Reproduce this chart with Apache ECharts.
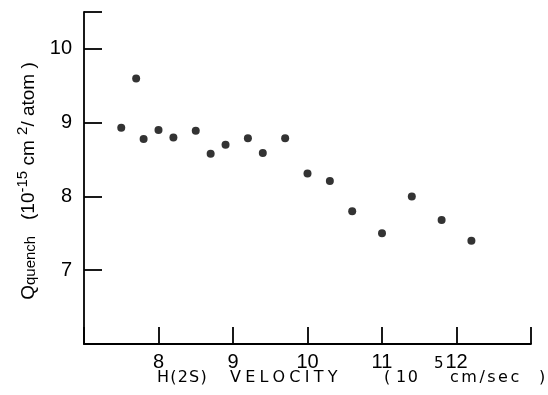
<!DOCTYPE html>
<html>
<head>
<meta charset="utf-8">
<script src="https://cdn.jsdelivr.net/npm/echarts@6/dist/echarts.min.js"></script>
<style>
html,body{margin:0;padding:0;background:#fff;}
#chart{width:548px;height:395px;}
</style>
</head>
<body>
<div id="chart"></div>
<script>
// Data
var velocity = [7.5, 7.7, 7.8, 8.0, 8.2, 8.5, 8.7, 8.9, 9.2, 9.4, 9.7, 10.0, 10.3, 10.6, 11.0, 11.4, 11.8, 12.2];
var qQuench  = [8.93, 9.6, 8.78, 8.9, 8.8, 8.89, 8.58, 8.7, 8.79, 8.59, 8.79, 8.31, 8.21, 7.8, 7.5, 8.0, 7.68, 7.4];
var xTickLabels = [8, 9, 10, 11, 12];
var yTickLabels = [7, 8, 9, 10];

var points = velocity.map(function (v, i) { return [v, qQuench[i]]; });
var FONT = 'Liberation Sans';
var TFONT = 'DejaVu Sans';
var INK = '#000';

// letter-spaced text: each character becomes a rich token with right padding
function spaced(str, gap, size) {
  var rich = {c: {fontFamily: TFONT, fontSize: size, fill: INK, padding: [0, gap, 0, 0]}};
  var text = str.split('').map(function (ch) { return '{c|' + ch + '}'; }).join('');
  return {text: text, rich: rich, verticalAlign: 'middle', align: 'left'};
}
function xTitlePiece(str, x, y, gap, size) {
  return {type: 'text', x: x, y: y, silent: true, style: spaced(str, gap, size)};
}

var chart = echarts.init(document.getElementById('chart'), null, {renderer: 'canvas'});
chart.setOption({
  animation: false,
  backgroundColor: '#fff',
  grid: {left: 84, right: 17, top: 12, bottom: 51, containLabel: false},
  xAxis: {
    type: 'value', min: 7, max: 13, interval: 1,
    axisLine: {show: true, onZero: false, lineStyle: {color: INK, width: 1.8}},
    axisTick: {show: true, inside: true, length: 17, lineStyle: {color: INK, width: 1.8}},
    splitLine: {show: false},
    axisLabel: {
      show: true, margin: 8, color: INK, fontFamily: FONT, fontSize: 20,
      formatter: function (v) { return xTickLabels.indexOf(v) >= 0 ? String(v) : ''; }
    }
  },
  yAxis: {
    type: 'value', min: 6, max: 10.5, interval: 1,
    axisLine: {show: true, onZero: false, lineStyle: {color: INK, width: 1.8}},
    axisTick: {show: true, inside: true, length: 18, lineStyle: {color: INK, width: 1.8}},
    splitLine: {show: false},
    axisLabel: {
      show: true, margin: 12, color: INK, fontFamily: FONT, fontSize: 20,
      formatter: function (v) { return yTickLabels.indexOf(v) >= 0 ? String(v) : ''; }
    }
  },
  series: [{
    type: 'scatter',
    data: points,
    symbol: 'circle',
    symbolSize: 8,
    itemStyle: {color: INK}
  }],
  graphic: [
    xTitlePiece('H(2S)', 157, 378, 1.2, 16),
    xTitlePiece('VELOCITY', 230, 378, 4.2, 16),
    xTitlePiece('(', 384, 378, 0, 16),
    xTitlePiece('10', 396, 378, 1.5, 16),
    xTitlePiece('5', 434, 364, 0, 15),
    xTitlePiece('cm/sec', 450, 378, 2.5, 16),
    xTitlePiece(')', 539, 378, 0, 16),
    {
      type: 'text', x: 27, y: 181, rotation: Math.PI / 2, silent: true,
      style: {
        text: '{a|Q}{b|quench}{a|   (10}{s|-15}{a| cm }{s|2}{a|/ atom )}',
        align: 'center', verticalAlign: 'middle',
        rich: {
          a: {fontFamily: FONT, fontSize: 19, fill: INK, verticalAlign: 'bottom'},
          b: {fontFamily: FONT, fontSize: 15, fill: INK, verticalAlign: 'bottom'},
          s: {fontFamily: FONT, fontSize: 15, fill: INK, padding: [0, 0, 8, 0], verticalAlign: 'bottom'}
        }
      }
    }
  ]
});
</script>
</body>
</html>
